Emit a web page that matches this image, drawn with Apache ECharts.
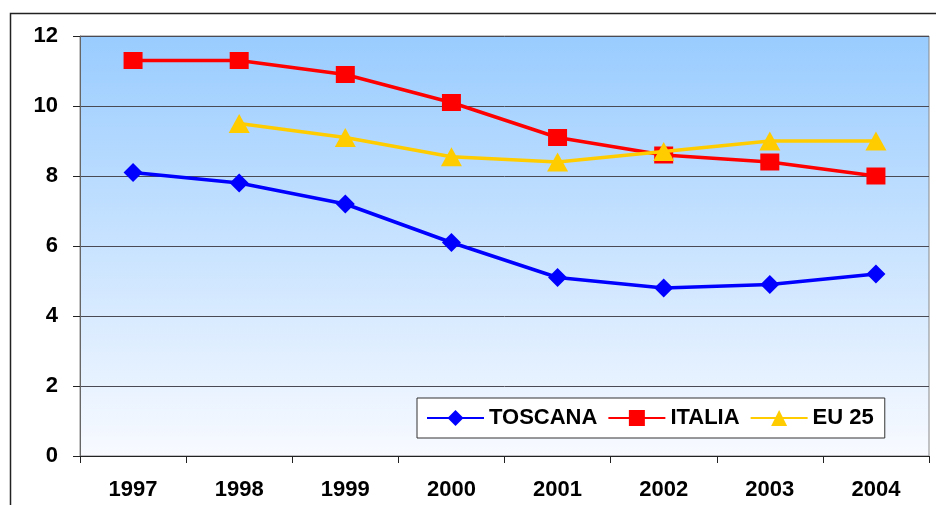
<!DOCTYPE html>
<html><head><meta charset="utf-8">
<script src="https://cdn.jsdelivr.net/npm/echarts@6/dist/echarts.min.js"></script>
<style>html,body{margin:0;padding:0;background:#fff}#c{width:936px;height:505px}</style>
</head><body><div id="c"></div>
<script>
const categories = ['1997','1998','1999','2000','2001','2002','2003','2004'];
const toscana = [8.1, 7.8, 7.2, 6.1, 5.1, 4.8, 4.9, 5.2];
const italia = [11.3, 11.3, 10.9, 10.1, 9.1, 8.6, 8.4, 8.0];
const eu25 = [null, 9.5, 9.1, 8.55, 8.4, 8.7, 9.0, 9.0];
const yTicks = [0, 2, 4, 6, 8, 10, 12];

const chart = echarts.init(document.getElementById('c'));
const font = 'Arial, "Liberation Sans", sans-serif';
chart.setOption({
  animation: false,
  graphic: [{type:'rect', shape:{x:10.5,y:13.5,width:940,height:520}, style:{fill:'none', stroke:'#222', lineWidth:1.5}, z:-10}],
  grid: {left:80, right:7, top:36, bottom:49, show:true, borderColor:'#888', borderWidth:1,
    backgroundColor: new echarts.graphic.LinearGradient(0,0,0,1,[{offset:0,color:'#99CCFF'},{offset:1,color:'#F8FAFF'}])},
  legend: {
    left: 417, top: 398,
    padding: [9, 11, 9, 9], itemGap: 10,
    borderColor:'#333', borderWidth:1, backgroundColor:'#fff',
    itemWidth: 57, itemHeight: 20,
    textStyle: {fontFamily: font, fontWeight:'bold', fontSize:22, color:'#000'},
    data: ['TOSCANA','ITALIA','EU 25']
  },
  xAxis: {
    type:'category', data: categories, boundaryGap: true,
    axisLine:{lineStyle:{color:'#222', width:1}},
    axisTick:{show:true, length:7, lineStyle:{color:'#222'}},
    axisLabel:{margin:23, fontFamily:font, fontWeight:'bold', fontSize:22, color:'#000'}
  },
  yAxis: {
    type:'value', min: yTicks[0], max: yTicks[yTicks.length-1], interval: 2,
    axisLine:{show:true, lineStyle:{color:'#666'}},
    axisTick:{show:true, length:7, lineStyle:{color:'#222'}},
    splitLine:{lineStyle:{color:'#4a4a55', width:1}},
    axisLabel:{margin:22, fontFamily:font, fontWeight:'bold', fontSize:22, color:'#000'}
  },
  series: [
    {name:'TOSCANA', type:'line', data: toscana, symbol:'diamond', symbolSize:[19,19],
      lineStyle:{color:'#0000FF', width:3.5}, itemStyle:{color:'#0000FF'}, z:3},
    {name:'ITALIA', type:'line', data: italia, symbol:'rect', symbolSize:[19,17],
      lineStyle:{color:'#FF0000', width:3.5}, itemStyle:{color:'#FF0000'}, z:4},
    {name:'EU 25', type:'line', data: eu25, symbol:'triangle', symbolSize:[21,19], connectNulls:false,
      lineStyle:{color:'#FFCC00', width:3.5}, itemStyle:{color:'#FFCC00'}, z:5}
  ]
});
</script></body></html>
